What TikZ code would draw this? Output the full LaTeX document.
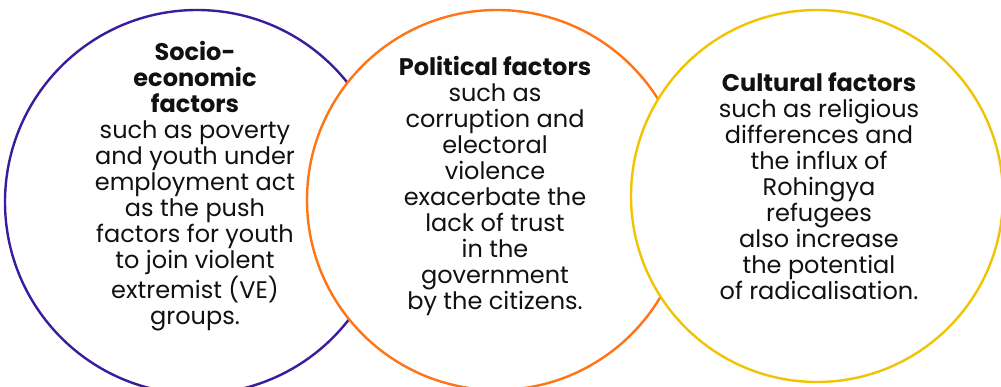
\documentclass[tikz,border=0pt]{standalone}
\usepackage{fontspec}
\setmainfont{Poppins}
\definecolor{cpurple}{HTML}{3A1C9C}
\definecolor{corange}{HTML}{FF7415}
\definecolor{cyellow}{HTML}{F0C400}
\definecolor{ctext}{HTML}{111111}
\tikzset{
  ring/.style={line width=2.4pt, fill=white},
  blurb/.style={align=center, text=ctext, font=\fontsize{24}{26}\selectfont, inner sep=0pt}
}
\begin{document}
\begin{tikzpicture}[x=1pt,y=-1pt]
\useasboundingbox (0,0) rectangle (1001,387);
\begin{scope}
\clip (0,0) rectangle (1001,387);
\draw[ring, draw=cpurple] (197,202) circle[radius=192];
\draw[ring, draw=corange] (497,200) circle[radius=190];
\draw[ring, draw=cyellow] (817,196) circle[radius=186];
\end{scope}
\node[blurb] (socio) at (195,186) {\textbf{Socio-}\\\textbf{economic}\\\textbf{factors}\\such as poverty\\and youth under\\employment act\\as the push\\factors for youth\\to join violent\\extremist (VE)\\groups.};
\node[blurb] (pol) at (495,186) {\textbf{Political factors}\\such as\\corruption and\\electoral\\violence\\exacerbate the\\lack of trust\\in the\\government\\by the citizens.};
\node[blurb] (cult) at (819,186) {\textbf{Cultural factors}\\such as religious\\differences and\\the influx of\\Rohingya\\refugees\\also increase\\the potential\\of radicalisation.};
\end{tikzpicture}
\end{document}
